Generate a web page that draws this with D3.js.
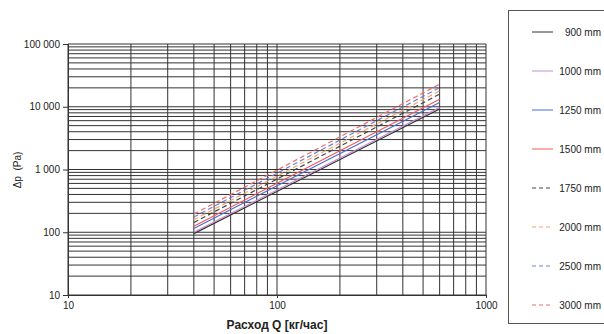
<!DOCTYPE html>
<html><head><meta charset="utf-8">
<script src="https://cdn.jsdelivr.net/npm/d3@7"></script>
<style>body{margin:0;background:#fff}svg{display:block;font-family:Arial,"Liberation Sans",sans-serif}</style>
</head><body><svg id="c" width="604" height="334"></svg>
<script>
const flowQ = [40, 600];
const seriesNames = ["900 mm","1000 mm","1250 mm","1500 mm","1750 mm","2000 mm","2500 mm","3000 mm"];
const dp900  = [95, 9200];
const dp1000 = [100, 9750];
const dp1250 = [115, 11700];
const dp1500 = [125, 13200];
const dp1750 = [143, 15900];
const dp2000 = [158, 17900];
const dp2500 = [175, 20200];
const dp3000 = [195, 22900];
const seriesValues = [dp900, dp1000, dp1250, dp1500, dp1750, dp2000, dp2500, dp3000];
const yTickLabels = ["10","100","1 000","10 000","100 000"];
const yTickValues = [10,100,1000,10000,100000];
const xTickLabels = ["10","100","1000"];
const xTickValues = [10,100,1000];
const colors = ["#333333","#c58ccf","#4a6fd0","#f25a5a","#444444","#f7a46a","#6e80d0","#f36a6a"];
const dashed = [false,false,false,false,true,true,true,true];

const svg = d3.select("#c");
const x = d3.scaleLog().domain([10,1000]).range([68,486]);
const y = d3.scaleLog().domain([10,100000]).range([295,44]);

// grid
const xs=[], ys=[];
for (let d=10; d<1000; d*=10) for (let k=1;k<=10;k++) xs.push(d*k);
for (let d=10; d<100000; d*=10) for (let k=1;k<=10;k++) ys.push(d*k);
const g = svg.append("g");
g.selectAll("line.h").data([...new Set(ys)]).join("line")
  .attr("x1",x(10)).attr("x2",x(1000)).attr("y1",d=>y(d)).attr("y2",d=>y(d))
  .attr("stroke","#333").attr("stroke-width",1);
g.selectAll("line.v").data([...new Set(xs)]).join("line")
  .attr("y1",y(10)).attr("y2",y(100000)).attr("x1",d=>x(d)).attr("x2",d=>x(d))
  .attr("stroke","#333").attr("stroke-width",1);

// axes
const yAxis = d3.axisLeft(y).tickValues(yTickValues).tickFormat((d,i)=>yTickLabels[i]).tickSize(5).tickPadding(3);
svg.append("g").attr("transform","translate(68,0)").call(yAxis)
  .call(s=>{s.select(".domain").attr("stroke","#333");s.selectAll("line").attr("stroke","#333");
    s.selectAll("text").attr("font-size",10).attr("fill","#222").attr("font-family","Arial, Liberation Sans, sans-serif");});
const xAxis = d3.axisBottom(x).tickValues(xTickValues).tickFormat((d,i)=>xTickLabels[i]).tickSize(3).tickPadding(4);
svg.append("g").attr("transform","translate(0,295)").call(xAxis)
  .call(s=>{s.select(".domain").attr("stroke","#333");s.selectAll("line").attr("stroke","#333");
    s.selectAll("text").attr("font-size",10).attr("fill","#222").attr("font-family","Arial, Liberation Sans, sans-serif");});

svg.append("text").attr("x",277).attr("y",329).attr("text-anchor","middle")
  .attr("font-size",12).attr("font-weight","bold").attr("fill","#222").text("Расход Q [кг/час]");
svg.append("text").attr("transform","translate(21,170) rotate(-90)").attr("text-anchor","middle")
  .attr("font-size",10).attr("fill","#222").text("Δp\u00a0\u00a0(Pa)");

// series
const line = d3.line().x((d,i)=>x(flowQ[i])).y(d=>y(d));
seriesValues.forEach((vals,i)=>{
  svg.append("path").datum(vals).attr("d",line).attr("fill","none")
    .attr("stroke",colors[i]).attr("stroke-width",1.2)
    .attr("stroke-dasharray",dashed[i]?"5,3":null);
});

// legend
svg.append("rect").attr("x",508.5).attr("y",10.5).attr("width",100).attr("height",313)
  .attr("fill","#fff").attr("stroke","#555");
const ly = d3.scalePoint().domain(seriesNames).range([32,305]);
seriesNames.forEach((n,i)=>{
  svg.append("line").attr("x1",532).attr("x2",553).attr("y1",ly(n)).attr("y2",ly(n))
    .attr("stroke",colors[i]).attr("stroke-width",1).attr("stroke-dasharray",dashed[i]?"4,3":null);
  svg.append("text").attr("x",601).attr("y",ly(n)+3.5).attr("text-anchor","end")
    .attr("font-size",10).attr("fill","#222").text(n);
});
</script></body></html>
